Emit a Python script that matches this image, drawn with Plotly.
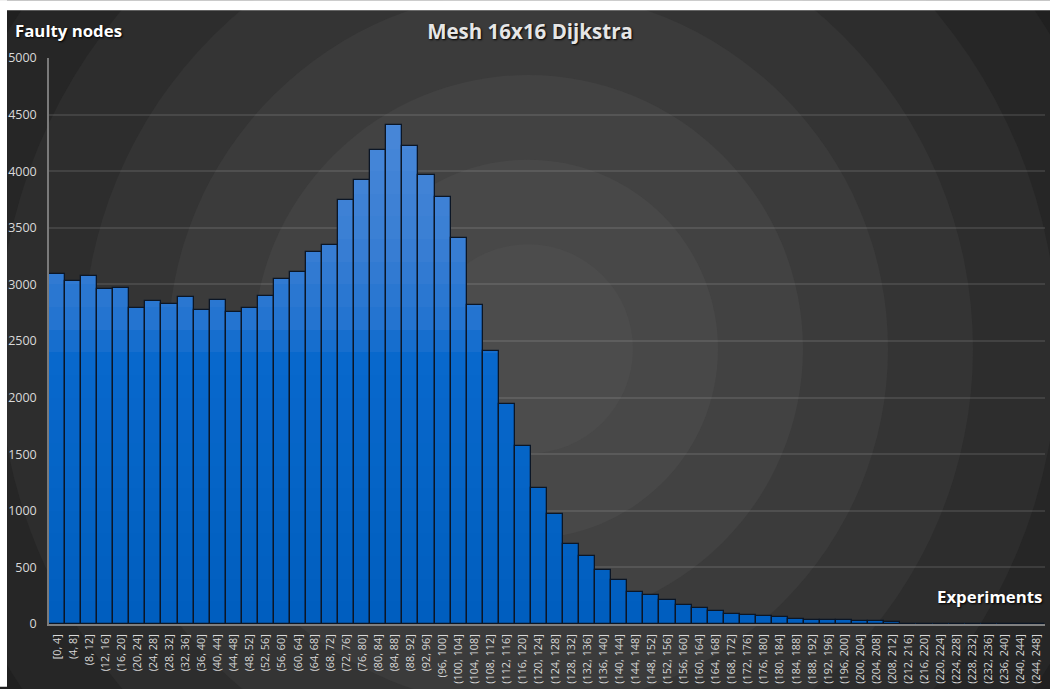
import plotly.graph_objects as go

# ---- data ----
bin_edges = list(range(0, 252, 4))
categories = ["[0, 4]"] + [f"({bin_edges[i]}, {bin_edges[i+1]}]" for i in range(1, 62)]
faulty_nodes = [3095, 3030, 3075, 2955, 2970, 2790, 2855, 2826, 2885, 2775,
                2865, 2755, 2790, 2895, 3045, 3110, 3285, 3345, 3750, 3920,
                4190, 4405, 4225, 3965, 3770, 3410, 2820, 2410, 1940, 1570,
                1205, 970, 705, 605, 480, 385, 285, 253, 214, 167,
                138, 112, 91, 82, 70, 62, 44, 32, 38, 38,
                29, 29, 18, 4, 4, 3, 3, 1, 1, 0,
                0, 0]
y_ticks = list(range(0, 5001, 500))

# ---- geometry (pixels) ----
W, H = 1050, 689
L, R, T, B = 49, 5, 58, 63
PW, PH = W - L - R, H - T - B

def px_to_paper_x(px):
    return (px - L) / PW

def px_to_paper_y(py):
    return (H - B - py) / PH

fig = go.Figure()

def lerp(c1, c2, t):
    return tuple(int(round(a + (b - a) * t)) for a, b in zip(c1, c2))

stops = [(0, (0, 94, 190)), (2300, (8, 104, 204)), (2700, (36, 116, 208)),
         (3400, (58, 127, 212)), (4500, (74, 136, 216))]

def color_at(v):
    for (v0, c0), (v1, c1) in zip(stops[:-1], stops[1:]):
        if v <= v1:
            return lerp(c0, c1, (v - v0) / (v1 - v0))
    return stops[-1][1]

band = 200
for lo in range(0, 4600, band):
    hi = lo + band
    seg = [max(0, min(v, hi) - lo) for v in faulty_nodes]
    c = color_at(lo + band / 2)
    fig.add_trace(go.Bar(x=categories, y=seg, base=[lo] * len(seg),
                         marker=dict(color=f"rgb{c}", line=dict(width=0)),
                         hoverinfo="skip", showlegend=False))

fig.add_trace(go.Bar(x=categories, y=faulty_nodes,
                     marker=dict(color="rgba(0,0,0,0)",
                                 line=dict(color="#0b1626", width=1.3)),
                     showlegend=False, name="Faulty nodes"))

# ---- radial background ----
cx, cy = 528, 350
rings = [(700, "#202020"), (610, "#262626"), (530, "#2d2d2d"), (445, "#343434"),
         (360, "#3b3b3b"), (275, "#424242"), (190, "#484848"), (105, "#4c4c4c")]
shapes = [dict(type="rect", xref="paper", yref="paper",
               x0=px_to_paper_x(0), x1=px_to_paper_x(W), y0=px_to_paper_y(H), y1=px_to_paper_y(0),
               fillcolor="#1c1c1c", line=dict(width=0), layer="below")]
for r, col in rings:
    shapes.append(dict(type="circle", xref="paper", yref="paper",
                       x0=px_to_paper_x(cx - r), x1=px_to_paper_x(cx + r),
                       y0=px_to_paper_y(cy + r), y1=px_to_paper_y(cy - r),
                       fillcolor=col, line=dict(width=0), layer="below"))
shapes.append(dict(type="rect", xref="paper", yref="paper",
                   x0=px_to_paper_x(0), x1=px_to_paper_x(W), y0=px_to_paper_y(10), y1=px_to_paper_y(0),
                   fillcolor="white", line=dict(width=0), layer="below"))
shapes.append(dict(type="rect", xref="paper", yref="paper",
                   x0=px_to_paper_x(0), x1=px_to_paper_x(7), y0=px_to_paper_y(H), y1=px_to_paper_y(0),
                   fillcolor="white", line=dict(width=0), layer="below"))

FONT = "Open Sans"
fig.update_layout(
    width=W, height=H,
    margin=dict(l=L, r=R, t=T, b=B, pad=0),
    paper_bgcolor="white", plot_bgcolor="rgba(0,0,0,0)",
    barmode="overlay", bargap=0,
    shapes=shapes,
    font=dict(family=FONT, color="#d9d9d9"),
    title=dict(text="<b>Mesh 16x16 Dijkstra</b>", xref="container", x=530 / W, xanchor="center",
               y=1 - 32 / H, yanchor="middle",
               font=dict(family=FONT, size=20.5, color="#e6e6e6", shadow="1px 1px 2px #000")),
    annotations=[
        dict(text="<b>Faulty nodes</b>", xref="paper", yref="paper",
             x=px_to_paper_x(13), y=px_to_paper_y(30), xanchor="left", yanchor="middle",
             showarrow=False, font=dict(family=FONT, size=16.8, color="white", shadow="1px 1px 2px #000")),
        dict(text="<b>Experiments</b>", xref="paper", yref="paper",
             x=px_to_paper_x(1044), y=px_to_paper_y(598), xanchor="right", yanchor="middle",
             showarrow=False, font=dict(family=FONT, size=16.8, color="white", shadow="1px 1px 2px #000")),
    ],
    xaxis=dict(type="category", categoryorder="array", categoryarray=categories,
               range=[-0.5, len(categories) - 0.5],
               tickangle=-90, tickfont=dict(family=FONT, size=10.8, color="#d9d9d9"),
               showgrid=False, showline=True, linecolor="#808080", linewidth=2,
               ticks="", ticklabelstandoff=4, zeroline=False),
    yaxis=dict(range=[0, 5000], tickvals=y_ticks, ticktext=[str(v) for v in y_ticks],
               tickfont=dict(family=FONT, size=12.5, color="#d9d9d9"),
               showgrid=True, gridcolor="rgba(255,255,255,0.10)", gridwidth=1.5,
               showline=True, linecolor="#7a7a7a", linewidth=1.5,
               ticks="", ticklabelstandoff=8, zeroline=False),
)

fig.write_html("out.html")
